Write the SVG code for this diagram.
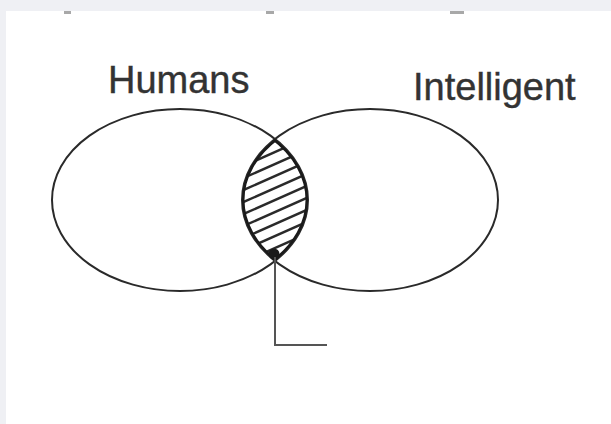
<svg xmlns="http://www.w3.org/2000/svg" width="611" height="424" viewBox="0 0 611 424">
<style>
.set{fill:none;stroke:#2a2a2a;stroke-width:2}
.lbl{font-family:"Liberation Sans",Arial,sans-serif;font-size:38px;fill:#333;stroke:#333;stroke-width:0.4}
.hatch{stroke:#2a2a2a;stroke-width:2.4}
.lead{fill:none;stroke:#555;stroke-width:2}
</style>
<defs>
<clipPath id="lensClip">
<ellipse cx="180" cy="200" rx="128" ry="91"/>
</clipPath>
<clipPath id="lensClip2">
<ellipse cx="370" cy="200" rx="128" ry="91"/>
</clipPath>
</defs>
<rect width="611" height="424" fill="#eff0f4"/>
<rect x="6" y="11" width="605" height="413" fill="#fff"/>
<g id="marks" fill="#a8a8a8">
<rect x="64" y="11" width="7" height="3"/>
<rect x="266" y="11" width="8" height="3"/>
<rect x="450" y="11" width="14" height="3"/>
</g>
<g id="humans">
<ellipse class="set" cx="180" cy="200" rx="128" ry="91"/>
<text class="lbl" x="108" y="93">Humans</text>
</g>
<g id="intelligent">
<ellipse class="set" cx="370" cy="200" rx="128" ry="91"/>
<text class="lbl" x="413" y="100">Intelligent</text>
</g>
<g id="intersection">
<g clip-path="url(#lensClip)">
<g clip-path="url(#lensClip2)">
<g class="hatch">
<line x1="230" y1="160" x2="320" y2="120"/>
<line x1="230" y1="172" x2="320" y2="132"/>
<line x1="230" y1="184" x2="320" y2="144"/>
<line x1="230" y1="196" x2="320" y2="156"/>
<line x1="230" y1="208" x2="320" y2="168"/>
<line x1="230" y1="220" x2="320" y2="180"/>
<line x1="230" y1="232" x2="320" y2="192"/>
<line x1="230" y1="244" x2="320" y2="204"/>
<line x1="230" y1="256" x2="320" y2="216"/>
<line x1="230" y1="268" x2="320" y2="228"/>
<line x1="230" y1="280" x2="320" y2="240"/>
<line x1="230" y1="292" x2="320" y2="252"/>
</g>
<ellipse cx="180" cy="200" rx="128" ry="91" fill="none" stroke="#1a1a1a" stroke-width="5"/>
<ellipse cx="370" cy="200" rx="128" ry="91" fill="none" stroke="#1a1a1a" stroke-width="5"/>
</g>
</g>
</g>
<g id="connectors">
<circle cx="274" cy="254" r="5.5" fill="#1a1a1a"/>
<polyline class="lead" points="275,257 275,345 327,345"/>
</g>
</svg>
